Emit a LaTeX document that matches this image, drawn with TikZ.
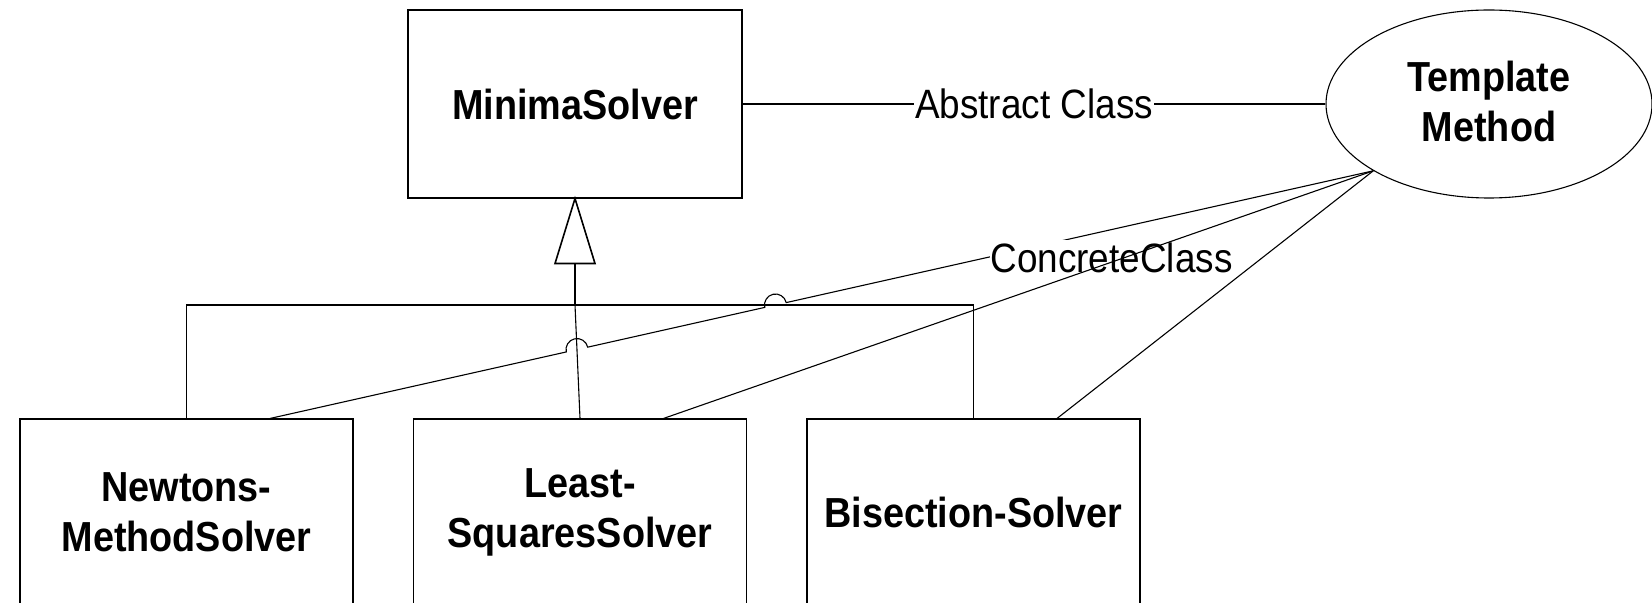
\documentclass[tikz,border=0pt]{standalone}
\usepackage{fontspec}
\setmainfont{Liberation Sans}[FakeStretch=0.9]
\usetikzlibrary{calc,shapes.geometric}

\begin{document}
\begin{tikzpicture}[x=0.5pt,y=-0.5pt,line width=0.55pt,
  clsfont/.style={font=\fontsize{21}{25}\selectfont\bfseries},
  cls/.style={draw, rectangle, inner sep=0pt, align=center, clsfont},
  topcls/.style={cls, minimum width=167pt, minimum height=94pt},
  subcls/.style={cls, minimum width=166.5pt, minimum height=93pt},
  pattern/.style={draw, ellipse, inner sep=0pt, align=center, clsfont,
    minimum width=163pt, minimum height=94pt},
  rolelbl/.style={font=\fontsize{20.5}{24}\selectfont, fill=white,
    inner xsep=0.5pt, inner ysep=1.5pt},
  genline/.style={line width=0.8pt}
]
\useasboundingbox (0,0) rectangle (1652,603);
\clip (0,0) rectangle (1652,603);

% classes
\node[topcls] (ms) at (575,104) {MinimaSolver};
\node[subcls] (n1) at (186.5,512) {Newtons-\\MethodSolver};
\node[subcls] (n2) at (580,512) {Least-\\SquaresSolver};
\node[subcls] (n3) at (973.5,512) {Bisection-Solver};

% pattern
\node[pattern] (tm) at (1489,104) {Template\\Method\rule[-3pt]{0pt}{0pt}};

% generalization tree
\coordinate (j) at (575,305);
\coordinate (k3) at (n3.north |- j);
\coordinate (t2) at (n2.north);
\draw[genline, fill=white] (ms.south) -- ++(20,65) -- ++(-40,0) -- cycle;
\draw[genline] ($(ms.south)+(0,65)$) -- (j);
\draw (n1.north) |- (j) -| (n3.north);
\draw (j) -- (t2);

% abstract class role
\draw (ms.east) -- node[rolelbl] (ac) {Abstract Class} (tm.west);

% concrete class roles, hopping over the generalization lines
\coordinate (s) at (tm.210.8);
\coordinate (e1) at ($(n1.north west)!0.75!(n1.north east)$);
\coordinate (e2) at ($(n2.north west)!0.75!(n2.north east)$);
\coordinate (e3) at ($(n3.north west)!0.75!(n3.north east)$);
\coordinate (h1) at (intersection of s--e1 and j--k3);
\coordinate (h2) at (intersection of s--e1 and j--t2);
\draw (s) -- ($(h1)!5.5pt!(s)$)
  arc[start angle=-12.6, end angle=-192.6, radius=11]
  -- ($(h2)!5.5pt!(s)$)
  arc[start angle=-12.6, end angle=-192.6, radius=11]
  -- (e1);
\node[rolelbl, anchor=base] (cc) at (1111.5,273) {ConcreteClass};
\draw (s) -- (e2);
\draw (s) -- (e3);
\end{tikzpicture}
\end{document}
